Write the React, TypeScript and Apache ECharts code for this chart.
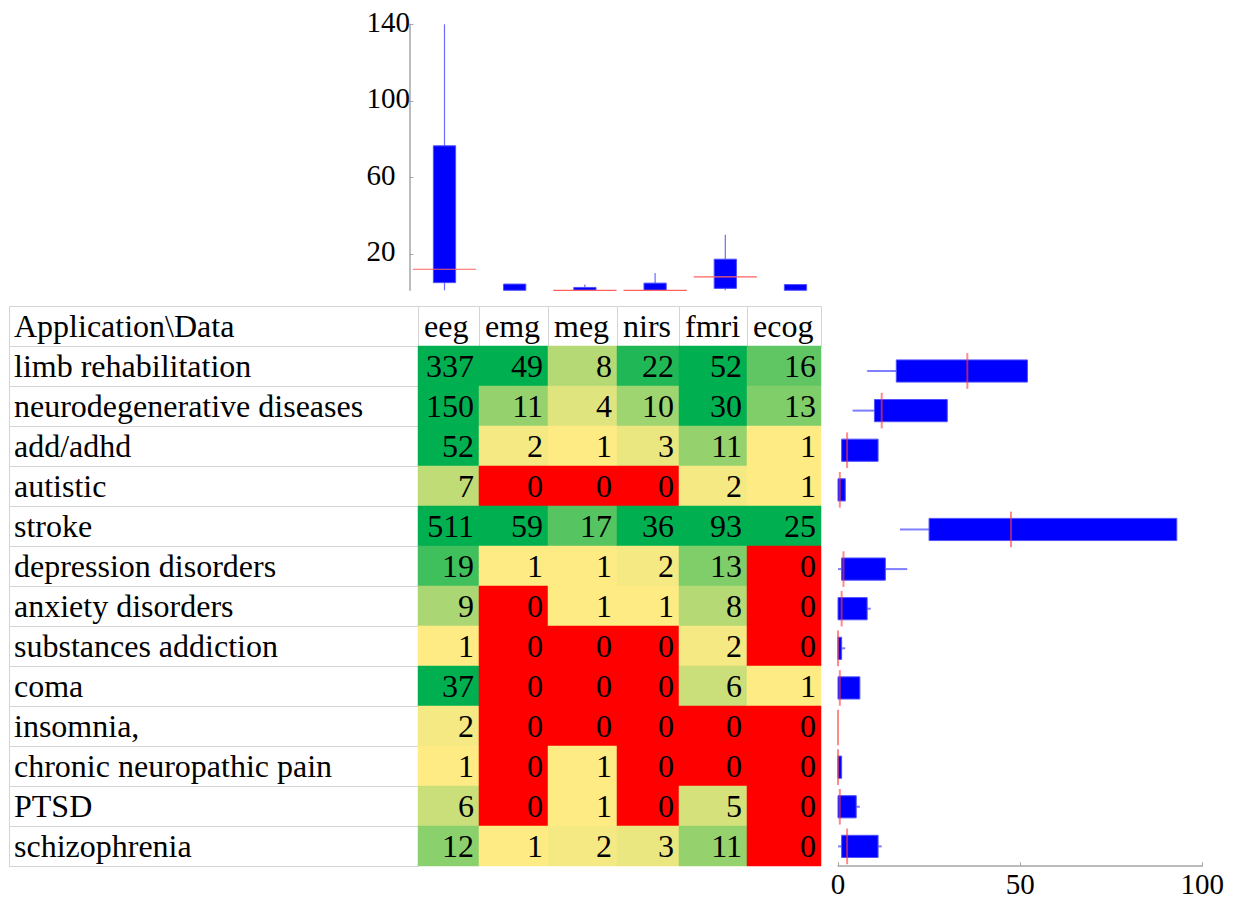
import React, { useEffect, useRef } from "react";
import * as echarts from "echarts";

// ---------- data ----------
const COLUMNS = ["eeg", "emg", "meg", "nirs", "fmri", "ecog"];
const APPLICATIONS = [
  "limb rehabilitation",
  "neurodegenerative diseases",
  "add/adhd",
  "autistic",
  "stroke",
  "depression disorders",
  "anxiety disorders",
  "substances addiction",
  "coma",
  "insomnia,",
  "chronic neuropathic pain",
  "PTSD",
  "schizophrenia",
];
const CORNER_LABEL = "Application\\Data";
const EEG = [337, 150, 52, 7, 511, 19, 9, 1, 37, 2, 1, 6, 12];
const EMG = [49, 11, 2, 0, 59, 1, 0, 0, 0, 0, 0, 0, 1];
const MEG = [8, 4, 1, 0, 17, 1, 1, 0, 0, 0, 1, 1, 2];
const NIRS = [22, 10, 3, 0, 36, 2, 1, 0, 0, 0, 0, 0, 3];
const FMRI = [52, 30, 11, 2, 93, 13, 8, 2, 6, 0, 0, 5, 11];
const ECOG = [16, 13, 1, 1, 25, 0, 0, 0, 1, 0, 0, 0, 0];
const TOP_TICKS = [20, 60, 100, 140];
const RIGHT_TICKS = [0, 50, 100];

// ---------- layout / style ----------
const COL_WIDTHS = [409, 61, 69, 69, 62, 68, 74];
const TOP_MIN = 1;
const TOP_MAX = 140;
const RIGHT_MIN = 0;
const RIGHT_MAX = 100;
const FONT = '"Liberation Serif", "Times New Roman", serif';
const GRID_COLOR = "#d4d4d4";
const TEXT_DY = 0;

const MATRIX = [EEG, EMG, MEG, NIRS, FMRI, ECOG];
const colEdges = COL_WIDTHS.reduce<number[]>((acc, w) => {
  acc.push(acc[acc.length - 1] + w);
  return acc;
}, [0]);
const TABLE_WIDTH = colEdges[colEdges.length - 1];

// Hazen quantile (position n*p + 1/2)
function quantile(sorted: number[], p: number) {
  const n = sorted.length;
  const h = n * p + 0.5;
  if (h <= 1) return sorted[0];
  if (h >= n) return sorted[n - 1];
  const lo = Math.floor(h);
  return sorted[lo - 1] + (h - lo) * (sorted[lo] - sorted[lo - 1]);
}
function boxStats(values: number[]) {
  const s = [...values].sort((a, b) => a - b);
  const q1 = quantile(s, 0.25);
  const med = quantile(s, 0.5);
  const q3 = quantile(s, 0.75);
  const iqr = q3 - q1;
  const lo = s.filter((v) => v >= q1 - 1.5 * iqr)[0];
  const hiArr = s.filter((v) => v <= q3 + 1.5 * iqr);
  const hi = hiArr[hiArr.length - 1];
  return [lo, q1, med, q3, hi];
}

function hexToRgb(h: string) {
  const n = parseInt(h.slice(1), 16);
  return [(n >> 16) & 255, (n >> 8) & 255, n & 255];
}
const LOW = hexToRgb("#FFEB84");
const HIGH = hexToRgb("#00B050");
function cellColor(v: number) {
  if (v <= 0) return "#FF0000";
  const t = Math.max(0, Math.min(1, (v - 1) / 24));
  const c = LOW.map((l, i) => Math.round(l + (HIGH[i] - l) * t));
  return `rgb(${c[0]},${c[1]},${c[2]})`;
}

const TABLE_ROWS = ["header", ...APPLICATIONS];

// white (text) cells
const whiteCells: { c: number; r: number; text: string }[] = [];
whiteCells.push({ c: 0, r: 0, text: CORNER_LABEL });
COLUMNS.forEach((name, i) => whiteCells.push({ c: i + 1, r: 0, text: name }));
APPLICATIONS.forEach((name, i) => whiteCells.push({ c: 0, r: i + 1, text: name }));

// value cells
const valueCells: [number, number, number][] = [];
MATRIX.forEach((col, ci) => col.forEach((v, ri) => valueCells.push([ci + 1, ri + 1, v])));

const topStats = MATRIX.map((col) => boxStats(col));
const rightStats = APPLICATIONS.map((_, ri) => boxStats(MATRIX.map((col) => col[ri])));

const clamp = (v: number, a: number, b: number) => Math.max(a, Math.min(b, v));

function buildOption(): any {
  return {
    animation: false,
    backgroundColor: "#ffffff",
    grid: [
      { left: 9, top: 306, width: TABLE_WIDTH, height: 560, containLabel: false },
      { left: 409.4, top: 24.3, width: 421.2, height: 266, containLabel: false },
      { left: 838, top: 351.2, width: 364.3, height: 515, containLabel: false },
    ],
    xAxis: [
      { gridIndex: 0, type: "value", min: 0, max: TABLE_WIDTH, show: false },
      { gridIndex: 1, type: "category", data: COLUMNS, show: false },
      {
        gridIndex: 2,
        type: "value",
        min: RIGHT_MIN,
        max: RIGHT_MAX,
        axisLine: { show: true, lineStyle: { color: "#a6a6a6", width: 1.5 } },
        axisTick: { show: true, inside: true, length: 4, customValues: RIGHT_TICKS, lineStyle: { color: "#a6a6a6" } },
        axisLabel: {
          customValues: RIGHT_TICKS,
          fontFamily: FONT,
          fontSize: 29,
          color: "#000",
          margin: 3,
        },
        splitLine: { show: false },
      },
    ],
    yAxis: [
      { gridIndex: 0, type: "category", data: TABLE_ROWS, inverse: true, show: false },
      {
        gridIndex: 1,
        type: "value",
        min: TOP_MIN,
        max: TOP_MAX,
        axisLine: { show: true, lineStyle: { color: "#a6a6a6", width: 1.5 } },
        axisTick: { show: true, inside: true, length: 4, customValues: TOP_TICKS, lineStyle: { color: "#a6a6a6" } },
        axisLabel: {
          customValues: TOP_TICKS,
          fontFamily: FONT,
          fontSize: 29,
          color: "#000",
          align: "left",
          verticalAlign: "bottom",
          lineHeight: 5,
          margin: 43,
        },
        splitLine: { show: false },
      },
      { gridIndex: 2, type: "category", data: APPLICATIONS, inverse: true, show: false },
    ],
    series: [
      {
        type: "custom",
        xAxisIndex: 0,
        yAxisIndex: 0,
        z: 1,
        data: whiteCells.map((d) => [d.c, d.r]),
        encode: { x: 0, y: 1 },
        renderItem: (params: any, api: any) => {
          const d = whiteCells[params.dataIndex];
          const p0 = api.coord([colEdges[d.c], d.r]);
          const p1 = api.coord([colEdges[d.c + 1], d.r]);
          const h = api.size([0, 1])[1];
          return {
            type: "group",
            children: [
              {
                type: "rect",
                shape: { x: p0[0] + 0.5, y: p0[1] - h / 2 + 0.5, width: p1[0] - p0[0], height: h },
                style: { fill: "#ffffff", stroke: GRID_COLOR, lineWidth: 1 },
              },
              {
                type: "text",
                style: {
                  text: d.text,
                  x: p0[0] + (d.c === 0 ? 5 : 6),
                  y: p0[1] + TEXT_DY,
                  align: "left",
                  verticalAlign: "middle",
                  fontFamily: FONT,
                  fontSize: 32,
                  fill: "#000",
                },
              },
            ],
          };
        },
      },
      {
        type: "custom",
        xAxisIndex: 0,
        yAxisIndex: 0,
        z: 2,
        data: valueCells,
        encode: { x: 0, y: 1 },
        renderItem: (params: any, api: any) => {
          const [c, r, v] = valueCells[params.dataIndex];
          const p0 = api.coord([colEdges[c], r]);
          const p1 = api.coord([colEdges[c + 1], r]);
          const h = api.size([0, 1])[1];
          const col = cellColor(v);
          return {
            type: "group",
            children: [
              {
                type: "rect",
                shape: { x: p0[0], y: p0[1] - h / 2, width: p1[0] - p0[0], height: h },
                style: { fill: col, stroke: col, lineWidth: 0.5 },
              },
              {
                type: "text",
                style: {
                  text: String(v),
                  x: p1[0] - 5,
                  y: p0[1] + TEXT_DY,
                  align: "right",
                  verticalAlign: "middle",
                  fontFamily: FONT,
                  fontSize: 32,
                  fill: "#000",
                },
              },
            ],
          };
        },
      },
      {
        type: "custom",
        xAxisIndex: 1,
        yAxisIndex: 1,
        z: 3,
        data: topStats.map((s, i) => [i, ...s]),
        encode: { x: 0, y: [1, 2, 3, 4, 5] },
        renderItem: (params: any, api: any) => {
          const i = params.dataIndex;
          const [lo, q1, med, q3, hi] = topStats[i];
          const cx = api.coord([i, TOP_MIN])[0];
          const band = api.size([1, 0])[0];
          const Y = (v: number) => api.coord([i, clamp(v, TOP_MIN, TOP_MAX)])[1];
          const children: any[] = [];
          const wStyle = { stroke: "#6a6aff", lineWidth: 1.2 };
          if (lo < q1 && q1 > TOP_MIN) children.push({ type: "line", shape: { x1: cx, y1: Y(lo), x2: cx, y2: Y(q1) }, style: wStyle });
          if (hi > q3 && hi > TOP_MIN) children.push({ type: "line", shape: { x1: cx, y1: Y(q3), x2: cx, y2: Y(hi) }, style: wStyle });
          if (q3 > TOP_MIN) {
            const bw = band * 0.317;
            const yt = Y(q3);
            const yb = Y(q1);
            children.push({
              type: "rect",
              shape: { x: cx - bw / 2, y: yt, width: bw, height: yb - yt },
              style: { fill: "#0000ff", stroke: "#5050ff", lineWidth: 1 },
            });
          }
          if (med >= TOP_MIN) {
            const mw = band * 0.9;
            children.push({ type: "line", shape: { x1: cx - mw / 2, y1: Y(med), x2: cx + mw / 2, y2: Y(med) }, style: { stroke: "#ff6060", lineWidth: 1.2 } });
          }
          return { type: "group", children };
        },
      },
      {
        type: "custom",
        xAxisIndex: 2,
        yAxisIndex: 2,
        z: 3,
        data: rightStats.map((s, i) => [...s, i]),
        encode: { x: [0, 1, 2, 3, 4], y: 5 },
        renderItem: (params: any, api: any) => {
          const r = params.dataIndex;
          const [lo, q1, med, q3, hi] = rightStats[r];
          const cy = api.coord([RIGHT_MIN, r])[1];
          const band = api.size([0, 1])[1];
          const X = (v: number) => api.coord([clamp(v, RIGHT_MIN, RIGHT_MAX), r])[0];
          const children: any[] = [];
          const wStyle = { stroke: "rgba(40,40,255,0.6)", lineWidth: 2 };
          if (lo < q1) children.push({ type: "line", shape: { x1: X(lo), y1: cy, x2: X(q1), y2: cy }, style: wStyle });
          if (hi > q3) children.push({ type: "line", shape: { x1: X(q3), y1: cy, x2: X(hi), y2: cy }, style: wStyle });
          if (q3 > q1) {
            const bh = band * 0.56;
            children.push({
              type: "rect",
              shape: { x: X(q1), y: cy - bh / 2, width: X(q3) - X(q1), height: bh },
              style: { fill: "#0000ff", stroke: "#5050ff", lineWidth: 1 },
            });
          }
          const mh = band * 0.9;
          children.push({ type: "line", shape: { x1: X(med), y1: cy - mh / 2, x2: X(med), y2: cy + mh / 2 }, style: { stroke: "rgba(255,60,60,0.6)", lineWidth: 2 } });
          return { type: "group", children };
        },
      },
    ],
  };
}

export default function App() {
  const ref = useRef<HTMLDivElement>(null);
  useEffect(() => {
    const chart = echarts.init(ref.current!, null, { renderer: "svg" });
    chart.setOption(buildOption());
    return () => chart.dispose();
  }, []);
  return (
    <div
      ref={ref}
      style={{ position: "absolute", left: 0, top: 0, width: 1235, height: 899 }}
    />
  );
}
